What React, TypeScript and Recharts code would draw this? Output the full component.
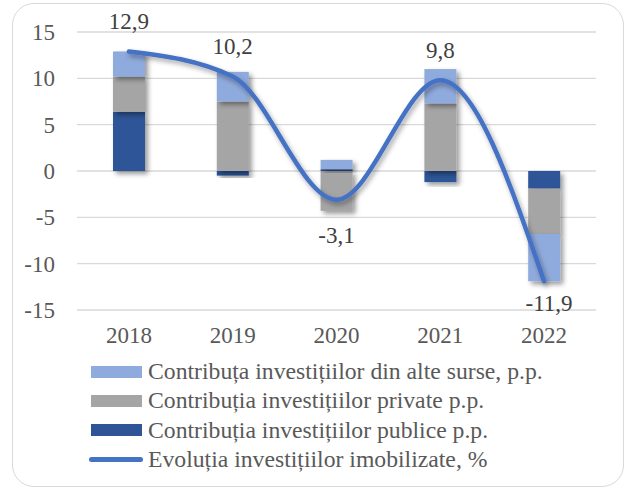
import React from "react";
import {
  ComposedChart,
  Bar,
  Line,
  XAxis,
  YAxis,
  CartesianGrid,
  Legend,
  LabelList,
} from "recharts";

const years = ["2018", "2019", "2020", "2021", "2022"];
const publicContrib = [6.4, -0.5, 0.2, -1.2, -1.9];
const privateContrib = [3.8, 7.5, -4.3, 7.3, -4.9];
const otherContrib = [2.7, 3.2, 1.0, 3.7, -5.1];
const growth = [12.9, 10.2, -3.1, 9.8, -11.9];
const yTicks = [-15, -10, -5, 0, 5, 10, 15];

const seriesNames = {
  other: "Contribuța investițiilor din alte surse, p.p.",
  priv: "Contribuția investițiilor private p.p.",
  pub: "Contribuția investițiilor publice p.p.",
  growth: "Evoluția investițiilor imobilizate, %",
};

const colors = {
  other: "#8faadc",
  priv: "#a5a5a5",
  pub: "#2f5597",
  growth: "#4472c4",
};

const data = years.map((year, i) => ({
  year,
  pub: publicContrib[i],
  priv: privateContrib[i],
  other: otherContrib[i],
  growth: growth[i],
}));

const FONT = "Liberation Serif";
const TEXT = "#595959";
const PLOT_BOTTOM = 310;

const ShadowBar = (props: any) => {
  const { x, y, width, height, fill } = props;
  if (!height) return null;
  const top = Math.min(y, y + height);
  return (
    <rect
      x={x}
      y={top}
      width={width}
      height={Math.abs(height)}
      fill={fill}
      filter="url(#barShadow)"
    />
  );
};

// labels sit above positive points, below negative ones, kept inside the plot
const GrowthLabel = (props: any) => {
  const { x, y, value } = props;
  const below = value < 0;
  const ty = below ? Math.min(y + 36, PLOT_BOTTOM - 7) : y - 30;
  return (
    <text
      x={x + (below && ty < y + 36 ? 5 : 0)}
      y={ty}
      textAnchor="middle"
      dominantBaseline="central"
      fill="#404040"
      fontSize={23}
      fontFamily={FONT}
    >
      {value.toFixed(1).replace(".", ",")}
    </text>
  );
};

const legendOrder = ["other", "priv", "pub", "growth"] as const;

const LegendBox = () => (
  <div style={{ fontFamily: FONT, fontSize: 23.7, color: TEXT }}>
    {legendOrder.map((key) => (
      <div
        key={key}
        style={{ display: "flex", alignItems: "center", height: 29.3 }}
      >
        {key === "growth" ? (
          <div
            style={{
              width: 54,
              height: 5,
              borderRadius: 3,
              background: colors[key],
              marginLeft: -2,
              marginRight: 5,
            }}
          />
        ) : (
          <div
            style={{
              width: 51,
              height: 12,
              background: colors[key],
              marginRight: 6,
            }}
          />
        )}
        <span style={{ whiteSpace: "nowrap" }}>{seriesNames[key]}</span>
      </div>
    ))}
  </div>
);

export default function App() {
  return (
    <div
      style={{
        position: "absolute",
        left: 0,
        top: 0,
        width: 626,
        height: 488,
        background: "#fff",
        overflow: "hidden",
      }}
    >
      <div
        style={{
          position: "absolute",
          left: 12,
          top: 3,
          width: 610,
          height: 482,
          border: "1.5px solid #d9d9d9",
          borderRadius: 22,
        }}
      />
      <div style={{ position: "absolute", left: 0, top: 0 }}>
        <ComposedChart
          width={626}
          height={488}
          data={data}
          stackOffset="sign"
          margin={{ top: 32, right: 30, left: 0, bottom: 148 }}
        >
          <defs>
            <filter id="barShadow" x="-30%" y="-30%" width="170%" height="170%">
              <feDropShadow dx="3" dy="3" stdDeviation="2.5" floodColor="#000" floodOpacity="0.4" />
            </filter>
            <filter id="lineShadow" x="-10%" y="-10%" width="120%" height="120%">
              <feDropShadow dx="2" dy="3" stdDeviation="2.5" floodColor="#000" floodOpacity="0.35" />
            </filter>
          </defs>
          <CartesianGrid vertical={false} stroke="#d9d9d9" strokeWidth={1.3} />
          <XAxis
            dataKey="year"
            height={30}
            axisLine={false}
            tickLine={false}
            tickSize={0}
            tickMargin={17}
            tick={{ fill: TEXT, fontSize: 23, fontFamily: FONT }}
          />
          <YAxis
            width={77}
            domain={[-15, 15]}
            ticks={yTicks}
            interval={0}
            axisLine={false}
            tickLine={false}
            tickSize={0}
            tickMargin={22}
            tick={{ fill: TEXT, fontSize: 23, fontFamily: FONT }}
          />
          <Bar dataKey="pub" name={seriesNames.pub} stackId="a" fill={colors.pub} barSize={32} shape={ShadowBar} isAnimationActive={false} />
          <Bar dataKey="priv" name={seriesNames.priv} stackId="a" fill={colors.priv} barSize={32} shape={ShadowBar} isAnimationActive={false} />
          <Bar dataKey="other" name={seriesNames.other} stackId="a" fill={colors.other} barSize={32} shape={ShadowBar} isAnimationActive={false} />
          <Line
            dataKey="growth"
            name={seriesNames.growth}
            type="monotone"
            stroke={colors.growth}
            strokeWidth={4.5}
            strokeLinecap="round"
            dot={false}
            activeDot={false}
            filter="url(#lineShadow)"
            isAnimationActive={false}
          >
            <LabelList dataKey="growth" content={GrowthLabel} />
          </Line>
          <Legend
            layout="vertical"
            align="center"
            verticalAlign="middle"
            content={LegendBox}
            wrapperStyle={{ left: 91, top: 357, width: 530 }}
          />
        </ComposedChart>
      </div>
    </div>
  );
}
